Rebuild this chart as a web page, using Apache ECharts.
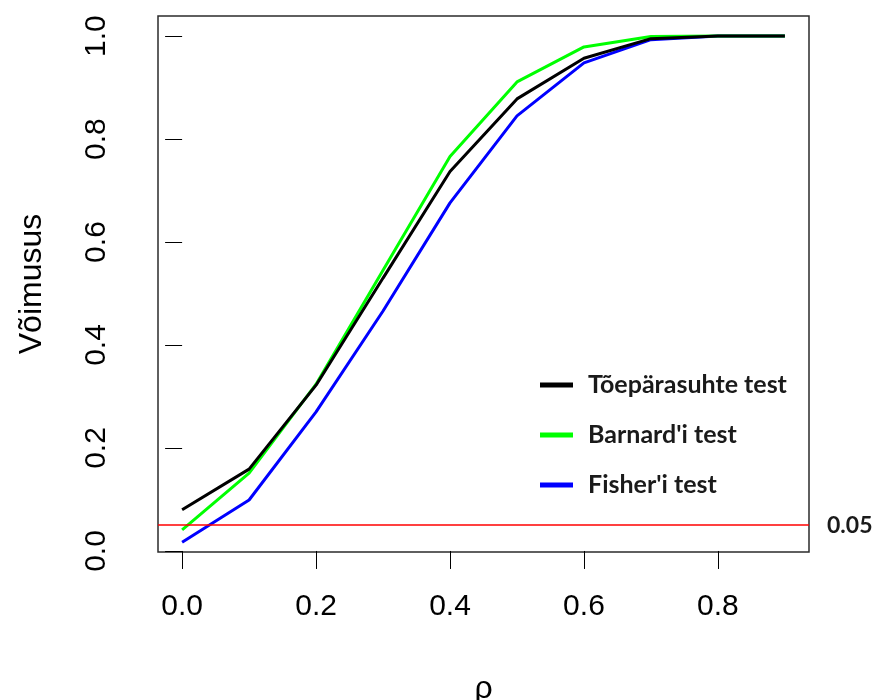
<!DOCTYPE html>
<html>
<head>
<meta charset="utf-8">
<script src="https://cdn.jsdelivr.net/npm/echarts@6/dist/echarts.min.js"></script>
<style>
  html, body { margin: 0; padding: 0; background: #fff; }
  #chart { width: 877px; height: 700px; }
</style>
</head>
<body>
<div id="chart"></div>
<script>
// Correlation values on the horizontal axis
const rho = [0.0, 0.1, 0.2, 0.3, 0.4, 0.5, 0.6, 0.7, 0.8, 0.9];

// Power of each test at the given rho
const lrtPower      = [0.080, 0.159, 0.322, 0.530, 0.737, 0.878, 0.957, 0.995, 1.000, 1.000];
const barnardPower  = [0.041, 0.151, 0.324, 0.545, 0.766, 0.911, 0.979, 0.999, 1.000, 1.000];
const fisherPower   = [0.017, 0.099, 0.270, 0.466, 0.676, 0.845, 0.948, 0.993, 1.000, 1.000];

// Significance level shown as a reference line
const alphaLevel = 0.05;

// Tick positions
const xTicks = [0.0, 0.2, 0.4, 0.6, 0.8];
const yTicks = [0.0, 0.2, 0.4, 0.6, 0.8, 1.0];

const seriesNames = ['Tõepärasuhte test', "Barnard'i test", "Fisher'i test"];

const pairs = (ys) => rho.map((x, i) => [x, ys[i]]);

const chart = echarts.init(document.getElementById('chart'), null, { renderer: 'canvas' });

const axisFont = { fontFamily: '"Liberation Sans", Arial, sans-serif', color: '#000' };
const noteFont = { fontFamily: 'Lato, "Open Sans", sans-serif', fontWeight: 'bold', color: '#1a1a1a' };

chart.setOption({
  animation: false,
  backgroundColor: '#fff',
  grid: {
    left: 158, right: 68, top: 16, bottom: 148,
    show: true, borderColor: '#2b2b2b', borderWidth: 1.5,
    backgroundColor: 'transparent',
    containLabel: false, outerBoundsMode: 'none'
  },
  legend: {
    orient: 'vertical',
    left: 540, top: 371, padding: 0,
    itemWidth: 33, itemHeight: 5, itemGap: 22,
    icon: 'rect',
    data: seriesNames,
    textStyle: Object.assign({
      fontSize: 25, lineHeight: 28, padding: [0, 0, 0, 10]
    }, noteFont)
  },
  xAxis: {
    type: 'value', min: -0.036, max: 0.936,
    name: 'ρ', nameLocation: 'middle', nameGap: 121,
    nameTextStyle: Object.assign({ fontSize: 32 }, axisFont),
    axisLine: { show: false },
    axisTick: { show: true, customValues: xTicks, length: 18, lineStyle: { color: '#000', width: 1 } },
    axisLabel: Object.assign({
      customValues: xTicks, fontSize: 30, margin: 40,
      formatter: (v) => v.toFixed(1)
    }, axisFont),
    splitLine: { show: false }
  },
  yAxis: {
    type: 'value', min: -0.002, max: 1.039,
    name: 'Võimusus', nameLocation: 'middle', nameGap: 110, nameRotate: 90,
    nameTextStyle: Object.assign({ fontSize: 32 }, axisFont),
    axisLine: { show: false },
    axisTick: { show: true, customValues: yTicks, length: 17, lineStyle: { color: '#000', width: 1 } },
    axisLabel: Object.assign({
      customValues: yTicks, fontSize: 30, margin: 46, rotate: 90,
      formatter: (v) => v.toFixed(1)
    }, axisFont),
    splitLine: { show: false }
  },
  series: [
    {
      name: seriesNames[2], type: 'line', data: pairs(fisherPower),
      showSymbol: false, symbol: 'none',
      lineStyle: { color: '#0000ff', width: 3 }, itemStyle: { color: '#0000ff' },
      markLine: {
        silent: true, symbol: ['none', 'none'],
        itemStyle: { color: '#ff0000' },
        lineStyle: { color: '#ff0000', width: 1.5, type: 'solid' },
        label: Object.assign({
          show: true, position: 'end', distance: 18,
          formatter: () => alphaLevel.toFixed(2),
          fontSize: 23
        }, noteFont),
        data: [{ yAxis: alphaLevel, lineStyle: { color: '#ff0000' }, itemStyle: { color: '#ff0000' } }]
      }
    },
    {
      name: seriesNames[1], type: 'line', data: pairs(barnardPower),
      showSymbol: false, symbol: 'none',
      lineStyle: { color: '#00ff00', width: 3 }, itemStyle: { color: '#00ff00' }
    },
    {
      name: seriesNames[0], type: 'line', data: pairs(lrtPower),
      showSymbol: false, symbol: 'none',
      lineStyle: { color: '#000000', width: 3 }, itemStyle: { color: '#000000' }
    }
  ]
});
</script>
</body>
</html>
